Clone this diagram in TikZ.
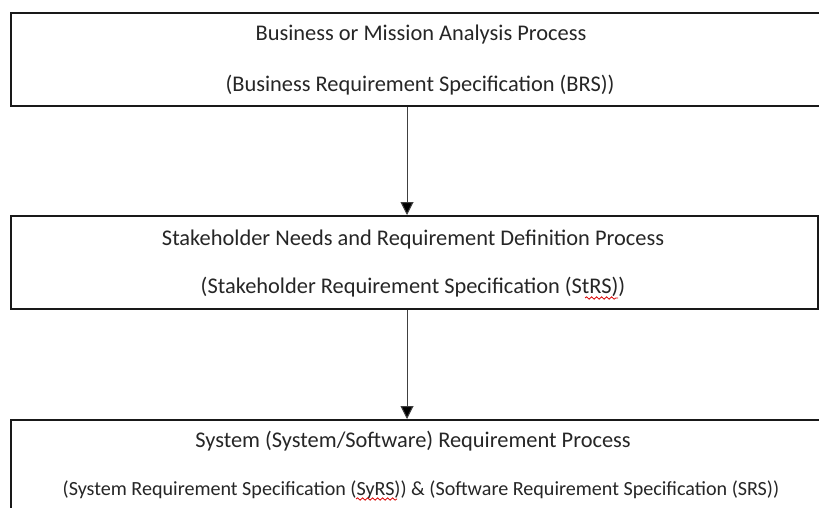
\documentclass[tikz,border=0pt]{standalone}
\usepackage{fontspec}
\setmainfont{Carlito}
\usetikzlibrary{arrows.meta,decorations.pathmorphing}
\begin{document}
\begin{tikzpicture}[x=1pt,y=-1pt,
  box/.style={draw=black!90,line width=2pt,inner sep=0pt,anchor=north west},
  lbl/.style={text=black!85,font=\fontsize{22.4}{26}\selectfont,inner sep=0pt},
  slbl/.style={text=black!85,font=\fontsize{20.1}{24}\selectfont,inner sep=0pt},
  arr/.style={draw=black!75,line width=1pt,-{Triangle[length=13pt,width=13pt,fill=black]}},
  squig/.style={draw=red!85!black,line width=0.8pt,decorate,decoration={snake,amplitude=1.2pt,segment length=5pt}}]
\useasboundingbox (0,0) rectangle (819,508);
\clip (0,0) rectangle (819,508);
\fill[white] (0,0) rectangle (819,508);
\node[box,minimum width=815pt,minimum height=93pt] (b1) at (10,12) {};
\node[box,minimum width=807pt,minimum height=93pt] (b2) at (10,215) {};
\node[box,minimum width=815pt,minimum height=100pt] (b3) at (10,419) {};
\node[lbl] (t1a) at (421,35) {Business or Mission Analysis Process};
\node[lbl] (t1b) at (420,85) {(Business Requirement Specification (BRS))};
\node[lbl] (t2a) at (413,240) {Stakeholder Needs and Requirement Definition Process};
\node[lbl] (t2b) at (413,287) {(Stakeholder Requirement Specification (StRS))};
\node[lbl] (t3a) at (413,441) {System (System/Software) Requirement Process};
\node[slbl] (t3b) at (421,490) {(System Requirement Specification (SyRS)) \& (Software Requirement Specification (SRS))};
\coordinate (ax) at (407,0);
\draw[arr] (b1.south -| ax) -- (b2.north -| ax);
\draw[arr] (b2.south -| ax) -- (b3.north -| ax);
\coordinate (s1a) at (585,298);
\coordinate (s1b) at (618,298);
\draw[squig] (s1a) -- (s1b);
\coordinate (s2a) at (356,499);
\coordinate (s2b) at (397,499);
\draw[squig] (s2a) -- (s2b);
\end{tikzpicture}
\end{document}
